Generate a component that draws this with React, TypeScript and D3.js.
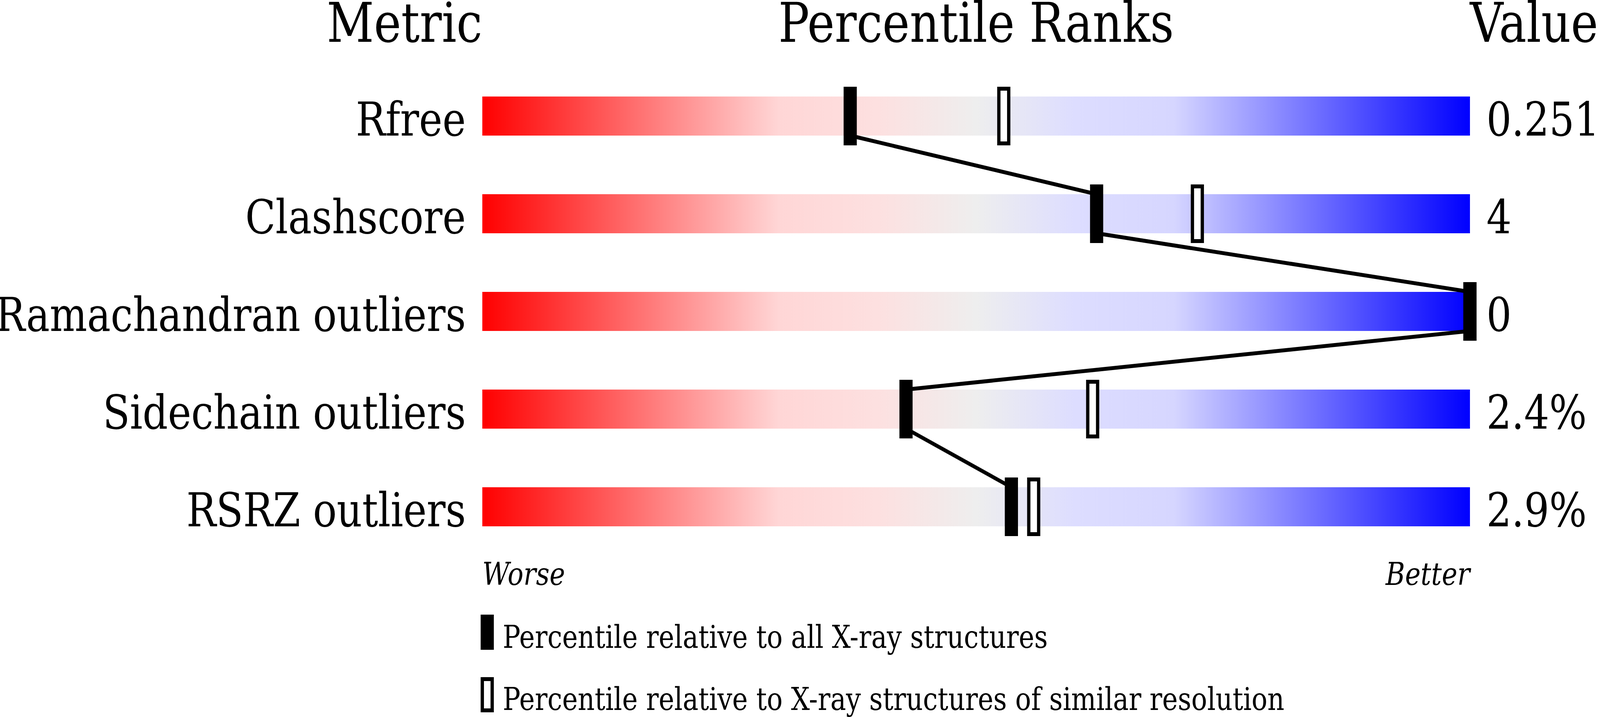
import React, { useEffect, useState } from "react";
import * as d3 from "d3";

const metrics = ["Rfree", "Clashscore", "Ramachandran outliers", "Sidechain outliers", "RSRZ outliers"];
const values = ["0.251", "4", "0", "2.4%", "2.9%"];
const pctAll = [37.25, 62.2, 100, 42.9, 53.57];
const pctSimilar = [52.8, 72.4, 100, 61.8, 55.83];
const headers = ["Metric", "Percentile Ranks", "Value"];
const axisLabels = ["Worse", "Better"];
const legendLabels = [
  "Percentile relative to all X-ray structures",
  "Percentile relative to X-ray structures of similar resolution",
];
const gradStops = [
  { o: 0, c: "#ff0000" },
  { o: 0.3, c: "#ffd6d6" },
  { o: 0.4, c: "#fde0e0" },
  { o: 0.5, c: "#eeeeee" },
  { o: 0.6, c: "#ddddff" },
  { o: 0.7, c: "#d6d6ff" },
  { o: 1, c: "#0000ff" },
];

const W = 4860;
const H = 1835;
const FONT = "'DejaVu Serif', serif";

function useViewport() {
  const get = () => ({
    w: typeof window !== "undefined" ? window.innerWidth : W,
    h: typeof window !== "undefined" ? window.innerHeight : H,
  });
  const [vp, setVp] = useState(get);
  useEffect(() => {
    document.body.style.margin = "0";
    document.body.style.overflow = "hidden";
    document.documentElement.style.overflow = "hidden";
    const on = () => setVp(get());
    on();
    window.addEventListener("resize", on);
    return () => window.removeEventListener("resize", on);
  }, []);
  return vp;
}

export default function App() {
  const vp = useViewport();
  const vw = vp.w || W;
  const vh = vp.h || H;

  const x = d3.scaleLinear().domain([0, 100]).range([1465, 4465]);
  const yTop = d3.scaleLinear().domain([0, metrics.length - 1]).range([247, 1247]);
  const barH = 100;
  const mW = 40;
  const mH = 150;
  const lineGen = d3.line<[number, number]>();

  const segs: [number, number][][] = [];
  for (let i = 0; i < metrics.length - 1; i++) {
    segs.push([
      [x(pctAll[i]), yTop(i) + barH],
      [x(pctAll[i + 1]), yTop(i + 1)],
    ]);
  }

  return (
    <div style={{ position: "absolute", left: 0, top: 0 }}>
      <svg
        width={vw}
        height={vh}
        viewBox={`0 0 ${W} ${H}`}
        preserveAspectRatio="none"
        style={{ display: "block", background: "#fff" }}
        fontFamily={FONT}
      >
        <defs>
          <linearGradient id="grad" x1="0" x2="1" y1="0" y2="0">
            {gradStops.map((g, i) => (
              <stop key={i} offset={g.o} stopColor={g.c} />
            ))}
          </linearGradient>
        </defs>
        <rect x={0} y={0} width={W} height={H} fill="#fff" />
        <text x={x(0)} y={107} fontSize={140} textAnchor="end">{headers[0]}</text>
        <text x={(x(0) + x(100)) / 2} y={107} fontSize={140} textAnchor="middle">{headers[1]}</text>
        <text x={x(100)} y={107} fontSize={140} textAnchor="start">{headers[2]}</text>

        {metrics.map((m, i) => (
          <g key={m}>
            <rect x={x(0)} y={yTop(i)} width={x(100) - x(0)} height={barH} fill="url(#grad)" />
            <text x={x(0) - 50} y={yTop(i) + barH} fontSize={120} textAnchor="end">{m}</text>
            <text x={x(100) + 50} y={yTop(i) + barH} fontSize={120} textAnchor="start">{values[i]}</text>
          </g>
        ))}

        {segs.map((sg, i) => (
          <path key={i} d={lineGen(sg) || ""} stroke="#000" strokeWidth={10} fill="none" />
        ))}

        {metrics.map((m, i) => (
          <g key={m + "-m"}>
            <rect
              x={x(pctSimilar[i]) - mW / 2 + 5}
              y={yTop(i) - (mH - barH) / 2 + 5}
              width={mW - 10}
              height={mH - 10}
              fill="#fff"
              stroke="#000"
              strokeWidth={10}
            />
            <rect
              x={x(pctAll[i]) - mW / 2}
              y={yTop(i) - (mH - barH) / 2}
              width={mW}
              height={mH}
              fill="#000"
            />
          </g>
        ))}

        <text x={x(0)} y={1497} fontSize={80} fontStyle="italic" textAnchor="start">{axisLabels[0]}</text>
        <text x={x(100)} y={1497} fontSize={80} fontStyle="italic" textAnchor="end">{axisLabels[1]}</text>

        <rect x={1460} y={1573} width={40} height={90} fill="#000" />
        <text x={1527} y={1658} fontSize={80}>{legendLabels[0]}</text>
        <rect x={1465} y={1738} width={30} height={80} fill="#fff" stroke="#000" strokeWidth={10} />
        <text x={1527} y={1817} fontSize={80}>{legendLabels[1]}</text>
      </svg>
    </div>
  );
}
